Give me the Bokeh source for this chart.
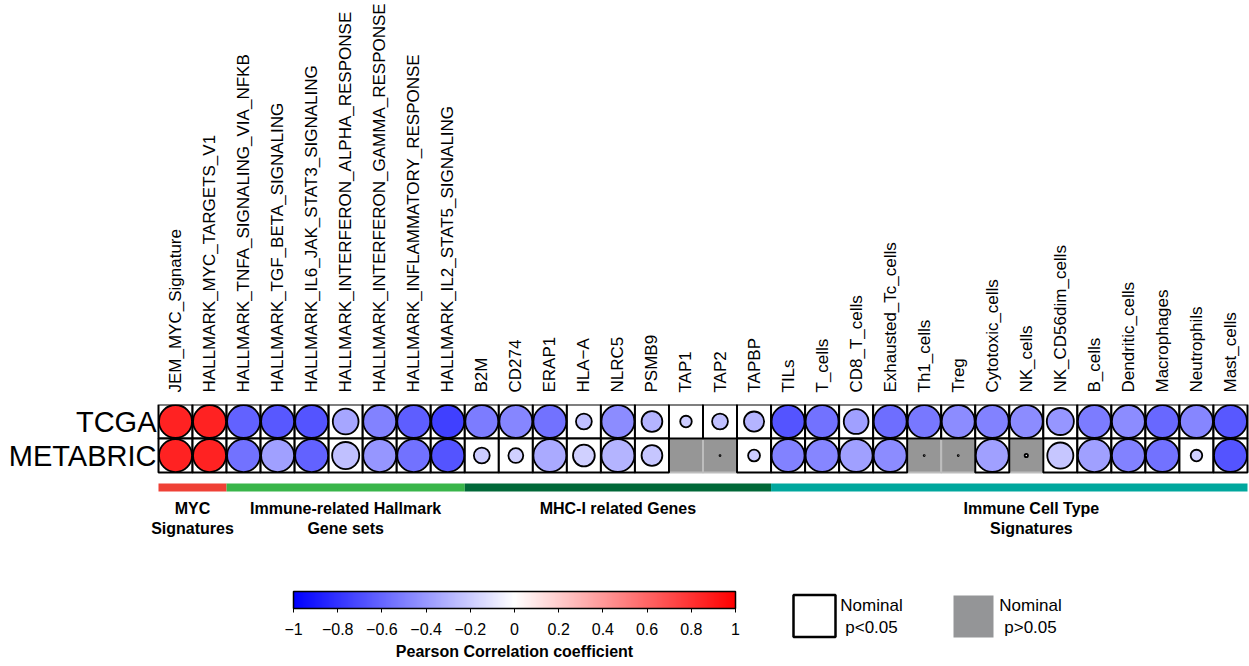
import math
import numpy as np
from bokeh.plotting import figure
from bokeh.models import (ColumnDataSource, Range1d, FixedTicker,
                          CustomJSTickFormatter, LinearColorMapper, ColorBar)
from bokeh.transform import transform
from bokeh.core.properties import value
from bokeh.embed import file_html
from bokeh.resources import INLINE

# ---------------------------------------------------------------- data
columns = [
    "JEM_MYC_Signature", "HALLMARK_MYC_TARGETS_V1",
    "HALLMARK_TNFA_SIGNALING_VIA_NFKB", "HALLMARK_TGF_BETA_SIGNALING",
    "HALLMARK_IL6_JAK_STAT3_SIGNALING", "HALLMARK_INTERFERON_ALPHA_RESPONSE",
    "HALLMARK_INTERFERON_GAMMA_RESPONSE", "HALLMARK_INFLAMMATORY_RESPONSE",
    "HALLMARK_IL2_STAT5_SIGNALING",
    "B2M", "CD274", "ERAP1", "HLA\u2212A", "NLRC5", "PSMB9", "TAP1", "TAP2", "TAPBP",
    "TILs", "T_cells", "CD8_T_cells", "Exhausted_Tc_cells", "Th1_cells", "Treg",
    "Cytotoxic_cells", "NK_cells", "NK_CD56dim_cells", "B_cells",
    "Dendritic_cells", "Macrophages", "Neutrophils", "Mast_cells",
]
cohorts = ["TCGA", "METABRIC"]

# Pearson correlation with the MYC signature
r_tcga = [0.86, 0.86, -0.61, -0.65, -0.67, -0.35, -0.49, -0.63, -0.75,
          -0.51, -0.47, -0.55, -0.25, -0.45, -0.29, -0.20, -0.25, -0.29,
          -0.67, -0.55, -0.37, -0.57, -0.53, -0.45, -0.49, -0.45, -0.41,
          -0.51, -0.45, -0.59, -0.47, -0.65]
r_metabric = [0.86, 0.86, -0.55, -0.37, -0.61, -0.25, -0.41, -0.55, -0.67,
              -0.20, -0.18, -0.33, -0.18, -0.29, -0.22, -0.01, -0.03, -0.20,
              -0.49, -0.47, -0.37, -0.45, -0.03, -0.03, -0.37, -0.05, -0.22,
              -0.37, -0.49, -0.55, -0.18, -0.67]

# -log10(nominal p-value)
nlp_tcga = [30, 30, 20, 22, 24, 7.8, 14, 21, 28,
            15, 13, 17, 4.8, 12, 6.3, 3.5, 4.8, 6.1,
            24, 17, 7.5, 18, 16, 12, 14, 12, 8.2,
            15, 12, 19, 13, 22]
nlp_metabric = [30, 30, 20, 12, 22, 8.2, 14, 20, 24,
                4.8, 4.5, 11, 6.6, 10.5, 6.3, 0.0, 0.3, 3.6,
                16, 15, 11, 14, 0.3, 0.3, 11, 1.0, 7.9,
                11, 16, 19, 3.5, 24]

groups = ["MYC\nSignatures", "Immune-related Hallmark\nGene sets",
          "MHC-I related Genes", "Immune Cell Type\nSignatures"]
group_sizes = [2, 7, 9, 14]
group_colors = ["#EF4136", "#39B54A", "#006838", "#00A79D"]

cbar_ticks = [-1, -0.8, -0.6, -0.4, -0.2, 0, 0.2, 0.4, 0.6, 0.8, 1]
cbar_title = "Pearson Correlation coefficient"

legend_labels = ["Nominal\np<0.05", "Nominal\np>0.05"]

# ---------------------------------------------------------------- style
FONT = "Liberation Sans"
W, H = 1249, 666
LEFT, RIGHT, TOP = 158, 2, 404
NLP_CAP = 10.0
P_CUT = -math.log10(0.05)
GRAY = "#969696"

# blue - white - red palette
palette = []
for t in np.linspace(-1, 1, 256):
    if t < 0:
        c = int(round(255 * (1 + t)))
        palette.append("#%02x%02x%02x" % (c, c, 255))
    else:
        c = int(round(255 * (1 - t)))
        palette.append("#%02x%02x%02x" % (255, c, c))
mapper = LinearColorMapper(palette=palette, low=-1, high=1)

# ---------------------------------------------------------------- geometry
ncol = len(columns)
nrow = len(cohorts)
unit = (W - LEFT - RIGHT) / ncol          # pixels per matrix cell


def lx(px):
    """canvas column -> data x"""
    return (px - LEFT) / unit


def ly(py):
    """canvas row -> data y"""
    return nrow - (py - TOP) / unit


# ---------------------------------------------------------------- matrix
cells = {"x": [], "y": [], "r": [], "rad": [], "sig": []}
for ri, (rv, pv) in enumerate([(r_tcga, nlp_tcga), (r_metabric, nlp_metabric)]):
    for ci in range(ncol):
        cells["x"].append(ci + 0.5)
        cells["y"].append(nrow - 1 - ri + 0.5)
        cells["r"].append(rv[ci])
        cells["rad"].append(0.485 * min(pv[ci], NLP_CAP) / NLP_CAP)
        cells["sig"].append(pv[ci] >= P_CUT)


def subset(flag):
    idx = [i for i, s in enumerate(cells["sig"]) if s == flag]
    return ColumnDataSource({k: [v[i] for i in idx] for k, v in cells.items()})


p = figure(width=W, height=H, x_range=Range1d(lx(0), lx(W)),
           y_range=Range1d(ly(H), nrow), x_axis_location="above",
           y_axis_location=None,
           output_backend="svg", toolbar_location=None,
           min_border_left=0, min_border_right=0,
           min_border_top=TOP, min_border_bottom=0)
p.grid.visible = False
p.outline_line_color = None
p.background_fill_color = "white"

p.xaxis.ticker = FixedTicker(ticks=[i + 0.5 for i in range(ncol)])
p.xaxis.formatter = CustomJSTickFormatter(args=dict(names=columns),
                                          code="return names[Math.floor(tick)];")
p.xaxis.major_label_orientation = math.pi / 2
p.xaxis.major_label_text_font = FONT
p.xaxis.major_label_text_font_size = "17px"
p.xaxis.major_label_text_color = "black"
p.xaxis.major_label_standoff = 6
p.xaxis.axis_line_color = None
p.xaxis.major_tick_line_color = None
p.xaxis.minor_tick_line_color = None

# cohort names
p.text(x=[lx(156)] * nrow, y=[nrow - 1 - i + 0.5 for i in range(nrow)],
       text=cohorts, text_align="right", text_baseline="middle",
       text_font=value(FONT), text_font_size="29px", text_color="black")

# non-significant cells first, so black borders of neighbours stay on top
p.rect(x="x", y="y", width=1, height=1, source=subset(False),
       fill_color=GRAY, line_color="#bdbdbd", line_width=2)
p.rect(x="x", y="y", width=1, height=1, source=subset(True),
       fill_color="white", line_color="black", line_width=2)
p.circle(x="x", y="y", radius="rad", source=ColumnDataSource(cells),
         fill_color=transform("r", mapper), line_color="black", line_width=1.8)

# group annotation bars and labels
starts = list(np.cumsum([0] + group_sizes[:-1]))
ends = list(np.cumsum(group_sizes))
p.quad(left=starts, right=ends, top=ly(483), bottom=ly(491),
       fill_color=group_colors, line_color=None)
label_nudge = [0, 0, 0, 0.65]
p.text(x=[(s + e) / 2 + n for s, e, n in zip(starts, ends, label_nudge)],
       y=[ly(499)] * len(groups), text=groups,
       text_align="center", text_baseline="top",
       text_font=value(FONT), text_font_style="bold", text_font_size="16px",
       text_color="black")

# ---------------------------------------------------------------- colour bar
cb = ColorBar(color_mapper=mapper, orientation="horizontal",
              width=442, height=17, location=(293, 29),
              ticker=FixedTicker(ticks=cbar_ticks),
              formatter=CustomJSTickFormatter(code="""
                  const v = Math.round(tick * 10) / 10;
                  return v < 0 ? '\\u2212' + Math.abs(v) : String(v);"""),
              padding=0, margin=0, label_standoff=10,
              major_tick_in=0, major_tick_out=4,
              major_tick_line_color="black", minor_tick_line_color=None,
              bar_line_color="black", bar_line_width=1.5,
              major_label_text_font=FONT, major_label_text_font_size="16px",
              major_label_text_color="black",
              background_fill_alpha=0, border_line_color=None)
p.add_layout(cb)
p.text(x=[lx(514)], y=[ly(651)], text=[cbar_title],
       text_align="center", text_baseline="middle",
       text_font=value(FONT), text_font_style="bold", text_font_size="16px",
       text_color="black")

# ---------------------------------------------------------------- legend
p.rect(x=[lx(814)], y=[ly(615.5)], width=42 / unit, height=42 / unit,
       fill_color="white", line_color="black", line_width=2.5)
p.rect(x=[lx(973)], y=[ly(616)], width=40 / unit, height=42 / unit,
       fill_color="#949597", line_color=None)
p.text(x=[lx(871), lx(1030)], y=[ly(616)] * 2, text=legend_labels,
       text_align="center", text_baseline="middle",
       text_font=value(FONT), text_font_size="17px", text_color="black")

open("out.html", "w").write(file_html(p, INLINE))
